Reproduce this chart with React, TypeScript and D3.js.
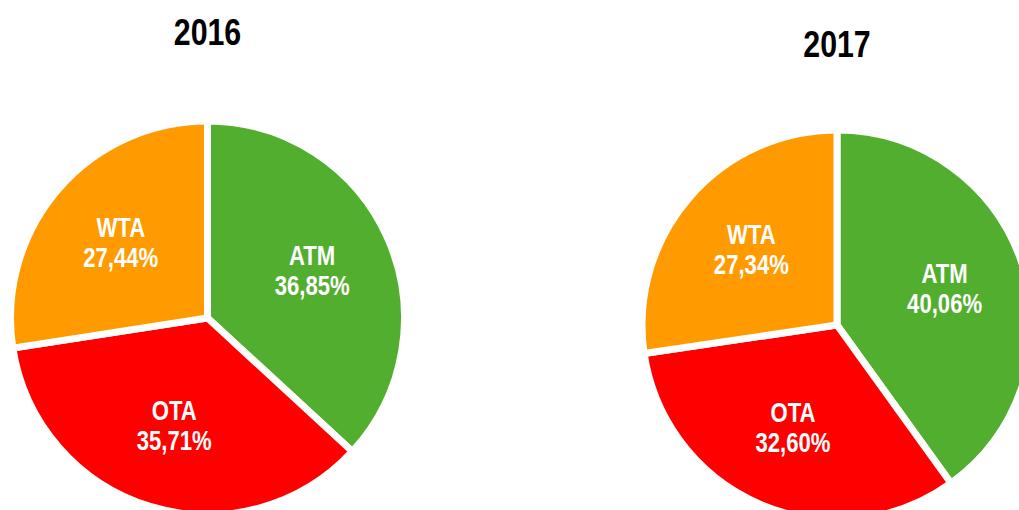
import React from "react";
import * as d3 from "d3";

const categories = ["ATM", "OTA", "WTA"];
const values2016 = [36.85, 35.71, 27.44];
const values2017 = [40.06, 32.6, 27.34];
const years = ["2016", "2017"];
const colors = ["#52AE2E", "#FF0000", "#FF9A00"];

const W = 1019;
const H = 510;
const FONT = "'Liberation Sans', Arial, sans-serif";
const NARROW = 0.82;

const pies = [
  { title: years[0], values: values2016, cx: 207.5, cy: 318, r: 197, titleY: 45 },
  { title: years[1], values: values2017, cx: 837, cy: 325, r: 195, titleY: 57 },
];

const fmt = (v: number) => v.toFixed(2).replace(".", ",") + "%";

function NText({ x, y, size, fill, children }: any) {
  return (
    <g transform={`translate(${x},${y}) scale(${NARROW},1)`}>
      <text x={0} y={0} textAnchor="middle" fontFamily={FONT} fontWeight="bold" fontSize={size} fill={fill}>
        {children}
      </text>
    </g>
  );
}

function Pie({ title, values, cx, cy, r, titleY }: any) {
  const data = categories.map((c, i) => ({ c, v: values[i], color: colors[i] }));
  const pie = d3.pie<any>().value((d: any) => d.v).sort(null);
  const arcs = pie(data);
  const arc = d3.arc<any>().innerRadius(0).outerRadius(r);
  const labelArc = d3.arc<any>().innerRadius(r * 0.58 * 2).outerRadius(0);
  return (
    <g>
      <NText x={cx} y={titleY} size={37} fill="#000">{title}</NText>
      <g transform={`translate(${cx},${cy})`}>
        {arcs.map((a, i) => (
          <path key={i} d={arc(a) || ""} fill={a.data.color} stroke="#fff" strokeWidth={7} strokeLinejoin="miter" />
        ))}
        {arcs.map((a, i) => {
          const [x, y] = labelArc.centroid(a);
          return (
            <g key={"t" + i}>
              <NText x={x} y={y - 7} size={27} fill="#fff">{a.data.c}</NText>
              <NText x={x} y={y + 23} size={27} fill="#fff">{fmt(a.data.v)}</NText>
            </g>
          );
        })}
      </g>
    </g>
  );
}

export default function App() {
  return (
    <svg width={W} height={H} style={{ position: "absolute", left: 0, top: 0, background: "#fff" }}>
      <rect width={W} height={H} fill="#fff" />
      {pies.map((p, i) => (
        <Pie key={i} {...p} />
      ))}
    </svg>
  );
}
